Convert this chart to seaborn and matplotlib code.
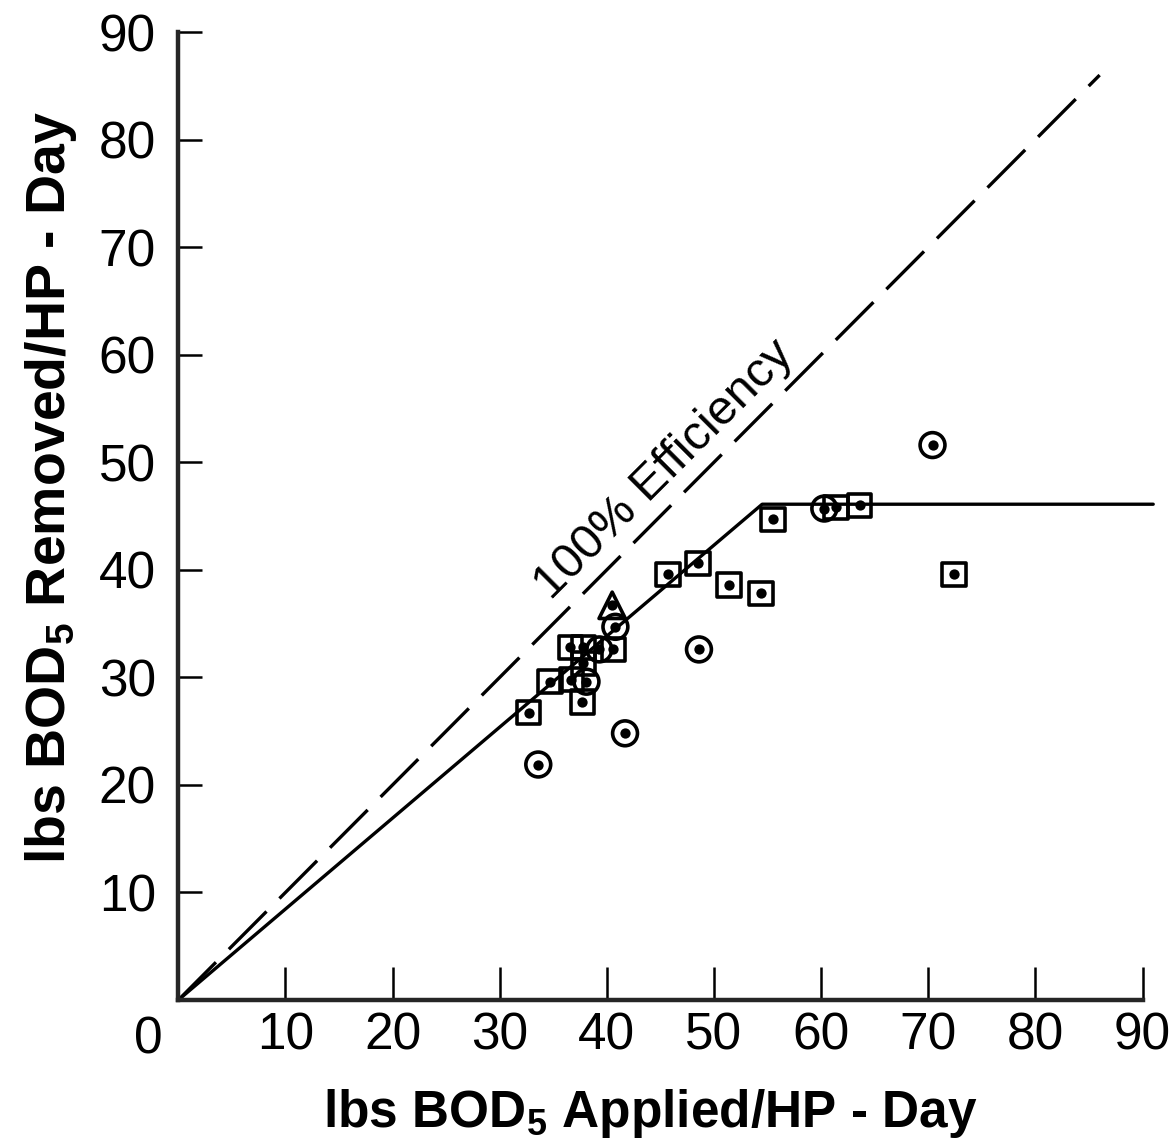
import matplotlib
matplotlib.use("Agg")
import matplotlib.pyplot as plt
import seaborn as sns

# values
sq_x = [32.7, 34.7, 36.7, 37.7, 36.6, 37.8, 37.8, 40.6, 45.7, 48.5, 51.4, 54.4, 55.5, 61.4, 63.6, 72.4]
sq_y = [26.7, 29.6, 29.8, 27.7, 32.8, 32.8, 31.3, 32.6, 39.6, 40.6, 38.6, 37.8, 44.7, 45.8, 46.0, 39.6]
circ_x = [33.6, 38.1, 39.3, 40.8, 41.7, 48.6, 60.3, 70.4]
circ_y = [21.9, 29.6, 32.6, 34.7, 24.8, 32.6, 45.7, 51.6]
tri_x = [40.5]
tri_y = [36.7]

eff_x = [0, 86]
eff_y = [0, 86]
fit_x = [0, 54.5, 91]
fit_y = [0, 46.1, 46.1]

ticks = [10, 20, 30, 40, 50, 60, 70, 80, 90]

sns.set_style("ticks")
plt.rcParams['font.family'] = ['Liberation Sans', 'DejaVu Sans']
plt.rcParams['text.color'] = 'black'
plt.rcParams['axes.labelcolor'] = 'black'
plt.rcParams['mathtext.fontset'] = 'custom'
plt.rcParams['mathtext.rm'] = 'Liberation Sans:bold'
plt.rcParams['mathtext.sf'] = 'Liberation Sans:bold'

fig = plt.figure(figsize=(11.73, 11.45), dpi=100)
ax = fig.add_axes([0.152, 0.1266, 0.822, 0.8454])

# 100% efficiency line and fitted line
sns.lineplot(x=eff_x, y=eff_y, ax=ax, color="black", linewidth=2.4,
             estimator=None, sort=False)
ax.lines[-1].set_dashes((16, 5.5))
sns.lineplot(x=fit_x, y=fit_y, ax=ax, color="black", linewidth=2.4,
             estimator=None, sort=False)
ax.lines[-1].set_clip_on(False)

# open markers with dots in the middle
for xs, ys, m, s in [(sq_x, sq_y, "s", 280), (circ_x, circ_y, "o", 320), (tri_x, tri_y, "^", 360)]:
    sns.scatterplot(x=xs, y=ys, ax=ax, marker=m, s=s, facecolor="none",
                    edgecolor="black", linewidth=2.6, zorder=3)
all_x = sq_x + circ_x + tri_x
all_y = sq_y + circ_y + tri_y
sns.scatterplot(x=all_x, y=all_y, ax=ax, s=55, color="black", linewidth=0, zorder=4)

ax.text(45.4, 49.3, "100% Efficiency", rotation=45, rotation_mode="anchor",
        ha="center", va="center", fontsize=35, color="black")

ax.set_xlim(0, 90)
ax.set_ylim(0, 90)
ax.set_xticks(ticks)
ax.set_yticks(ticks)
ax.set_xticklabels([str(t) for t in ticks])
ax.set_yticklabels([str(t) for t in ticks])
ax.tick_params(axis="both", direction="in", width=1.8, colors="black", labelsize=37)
ax.tick_params(axis="x", length=24, pad=8)
ax.tick_params(axis="y", length=17, pad=16)
ax.text(-2.8, -1.4, "0", ha="center", va="top", fontsize=37, color="black")

sns.despine(ax=ax)
for side in ["left", "bottom"]:
    ax.spines[side].set_linewidth(3.2)

ax.set_xlabel(r"lbs BOD$_{\mathsf{5}}$ Applied$\mathsf{/}$HP - Day", fontsize=37,
              fontweight="bold")
ax.set_ylabel(r"lbs BOD$_{\mathsf{5}}$ Removed$\mathsf{/}$HP - Day", fontsize=40,
              fontweight="bold")
ax.xaxis.set_label_coords(0.489, -0.09)
ax.yaxis.set_label_coords(-0.103, 0.53)

fig.savefig("out.png", dpi=100)
